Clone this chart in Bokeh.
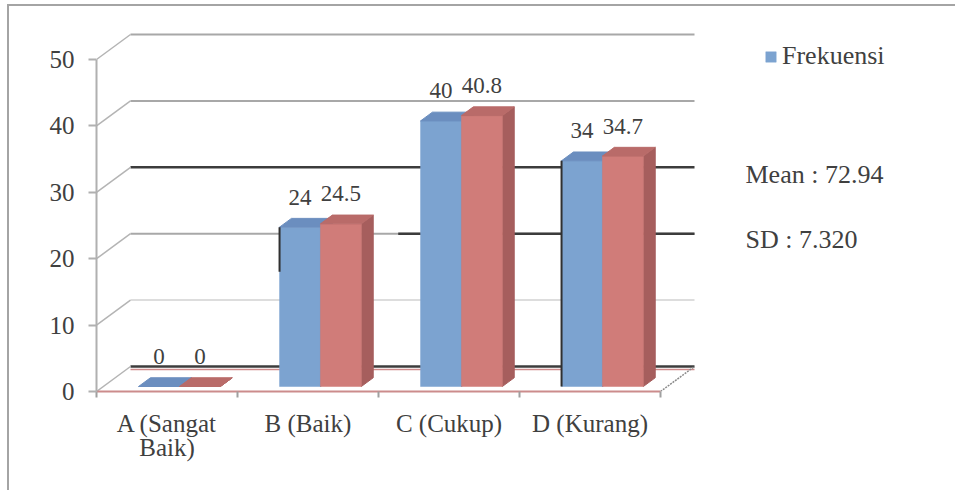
from bokeh.plotting import figure
from bokeh.models import (Range1d, FixedTicker, Legend, LegendItem, Label,
                          InlineStyleSheet)
from bokeh.embed import file_html
from bokeh.resources import INLINE

# ---------------- data ----------------
categories = ["A (Sangat\nBaik)", "B (Baik)", "C (Cukup)", "D (Kurang)"]
frekuensi = [0, 24, 40, 34]
persen = [0, 24.5, 40.8, 34.7]
frek_labels = ["0", "24", "40", "34"]
persen_labels = ["0", "24.5", "40.8", "34.7"]
y_ticks = [0, 10, 20, 30, 40, 50]
legend_label = "Frekuensi"
mean_text = "Mean : 72.94"
sd_text = "SD : 7.320"

# ---------------- geometry / style ----------------
W, H = 955, 490
LEFT_PX, BOTTOM_PX = 96, 99
FRAME_W, FRAME_H = W - LEFT_PX, H - BOTTOM_PX
PX_PER_CAT = 141.0
PX_PER_UNIT = 332.0 / 50.0
X_END = FRAME_W / PX_PER_CAT
Y_END = FRAME_H / PX_PER_UNIT
DDX = 34.0 / PX_PER_CAT        # depth of the 3-D box
DDY = 25.0 / PX_PER_UNIT
F1, F2 = 0.20, 0.55            # bar depth (front / back) as a fraction
SER_LEFT = [0.25, 0.54]
SER_W = 0.29
N = len(categories)
LABEL_GAP_PX = 30

SERIF = "Liberation Serif"
TXT = "#404040"
BLUE = dict(front="#7ca3d0", top="#6b8ebf", side="#5f7fab")
RED = dict(front="#d07c79", top="#b96b69", side="#a65e5d")

p = figure(width=W, height=H, output_backend="svg", toolbar_location=None,
           x_range=Range1d(0, X_END), y_range=Range1d(0, Y_END),
           min_border_left=LEFT_PX, min_border_right=0, min_border_top=0,
           min_border_bottom=BOTTOM_PX, background_fill_color="white",
           border_fill_color="white")
p.outline_line_color = None
p.grid.visible = False

# ---------------- back wall grid lines ----------------
DARK = "#3c3c3c"
grid_col = {50: "#a8a8a8", 40: "#a8a8a8", 30: DARK, 20: "#a8a8a8",
            10: "#dddddd", 0: DARK}
for t in y_ticks:
    p.segment(x0=[DDX], y0=[t + DDY], x1=[N + DDX], y1=[t + DDY],
              line_color=grid_col[t], line_width=2.4 if grid_col[t] == DARK else 2)
    # left wall connector
    p.segment(x0=[0], y0=[t], x1=[DDX], y1=[t + DDY], line_color="#b4b4b4",
              line_width=1.5)
# darker stretch on the 20 line
p.segment(x0=[2.14], y0=[20 + DDY], x1=[N + DDX], y1=[20 + DDY],
          line_color=DARK, line_width=2.4)
# floor
p.segment(x0=[DDX], y0=[DDY - 0.45], x1=[N + DDX], y1=[DDY - 0.45],
          line_color="#cf8a8a", line_width=1.5)
p.segment(x0=[N], y0=[0], x1=[N + DDX], y1=[DDY], line_color="#8a8a8a",
          line_width=1.5, line_dash="2 1")

# ---------------- 3-D bars ----------------
def bar_faces(vals, s):
    fl, fr, fb, ft = [], [], [], []
    txs, tys, sxs, sys_ = [], [], [], []
    for i, v in enumerate(vals):
        L = i + SER_LEFT[s]
        R = L + SER_W
        x1, y1 = F1 * DDX, F1 * DDY
        x2, y2 = F2 * DDX, F2 * DDY
        fl.append(L + x1); fr.append(R + x1); fb.append(y1); ft.append(v + y1)
        txs.append([L + x1, R + x1, R + x2, L + x2])
        tys.append([v + y1, v + y1, v + y2, v + y2])
        sxs.append([R + x1, R + x2, R + x2, R + x1])
        sys_.append([y1, y2, v + y2, v + y1])
    return fl, fr, fb, ft, txs, tys, sxs, sys_

renderers = []
for s, (vals, col) in enumerate([(frekuensi, BLUE), (persen, RED)]):
    fl, fr, fb, ft, txs, tys, sxs, sys_ = bar_faces(vals, s)
    p.patches(xs=sxs, ys=sys_, fill_color=col["side"], line_color=col["side"])
    r = p.quad(left=fl, right=fr, bottom=fb, top=ft, fill_color=col["front"],
               line_color=col["front"], line_width=0.5)
    p.patches(xs=txs, ys=tys, fill_color=col["top"], line_color=col["top"])
    renderers.append(r)

# dark outline artefacts at left edges of B and D bars
xb = 1 + SER_LEFT[0] + F1 * DDX
p.segment(x0=[xb], y0=[frekuensi[1] * 0.72 + F1 * DDY], x1=[xb],
          y1=[frekuensi[1] + F1 * DDY], line_color="#303030", line_width=2)
xd = 3 + SER_LEFT[0] + F1 * DDX
p.segment(x0=[xd], y0=[F1 * DDY], x1=[xd], y1=[frekuensi[3] + F1 * DDY],
          line_color="#303030", line_width=2)

# ---------------- data labels ----------------
for s, (vals, labs) in enumerate([(frekuensi, frek_labels), (persen, persen_labels)]):
    for i, (v, lab) in enumerate(zip(vals, labs)):
        p.add_layout(Label(x=i + SER_LEFT[s] + SER_W / 2 + F1 * DDX,
                           y=v + F1 * DDY + LABEL_GAP_PX / PX_PER_UNIT,
                           text=lab, text_font=SERIF, text_font_size="23px",
                           text_color=TXT, text_align="center",
                           text_baseline="alphabetic"))

# ---------------- axes ----------------
p.yaxis.ticker = FixedTicker(ticks=y_ticks, minor_ticks=[])
p.yaxis.bounds = (0, 50)
p.yaxis.axis_line_color = "#b0b0b0"
p.yaxis.axis_line_width = 2
p.yaxis.major_tick_line_color = "#b0b0b0"
p.yaxis.major_tick_line_width = 2
p.yaxis.major_tick_out = 8
p.yaxis.major_tick_in = 0
p.yaxis.major_label_standoff = 14
p.yaxis.major_label_text_font = SERIF
p.yaxis.major_label_text_font_size = "25px"
p.yaxis.major_label_text_color = TXT

centers = [i + 0.5 for i in range(N)]
p.xaxis.ticker = FixedTicker(ticks=centers, minor_ticks=list(range(N + 1)))
p.xaxis.bounds = (0, N)
p.xaxis.axis_line_color = "#cc8c8c"
p.xaxis.axis_line_width = 2
p.xaxis.major_tick_line_color = None
p.xaxis.major_tick_out = 0
p.xaxis.major_tick_in = 0
p.xaxis.minor_tick_line_color = "#a0a0a0"
p.xaxis.minor_tick_line_width = 2
p.xaxis.minor_tick_out = 6
p.xaxis.minor_tick_in = 0
p.xaxis.major_label_overrides = {c: lab for c, lab in zip(centers, categories)}
p.xaxis.major_label_standoff = 12
p.xaxis.major_label_text_font = SERIF
p.xaxis.major_label_text_font_size = "25px"
p.xaxis.major_label_text_line_height = 0.9
p.xaxis.major_label_text_color = TXT

# ---------------- legend & notes ----------------
legend = Legend(items=[LegendItem(label=legend_label, renderers=[renderers[0]])],
                location=(668, 320), background_fill_alpha=0,
                border_line_color=None, padding=0, margin=0, spacing=0,
                glyph_width=13, glyph_height=13, label_standoff=5,
                label_text_font=SERIF, label_text_font_size="26px",
                label_text_color=TXT)
p.add_layout(legend)

for txt, yy in [(mean_text, 217), (sd_text, 152)]:
    p.add_layout(Label(x=649, y=yy, x_units="screen", y_units="screen",
                       text=txt, text_font=SERIF,
                       text_font_size="26px", text_color=TXT,
                       text_baseline="alphabetic"))

# outer border of the chart area (left and top edges visible)
p.stylesheets = [InlineStyleSheet(css=(
    ":host { position: relative; }"
    ":host::after { content: ''; position: absolute; left: 7px; top: 4px;"
    " width: calc(100% - 7px); height: calc(100% - 4px);"
    " border-left: 2px solid #a4a4a4; border-top: 2px solid #a4a4a4;"
    " box-sizing: border-box; pointer-events: none; }"))]

open("out.html", "w").write(file_html(p, INLINE))
